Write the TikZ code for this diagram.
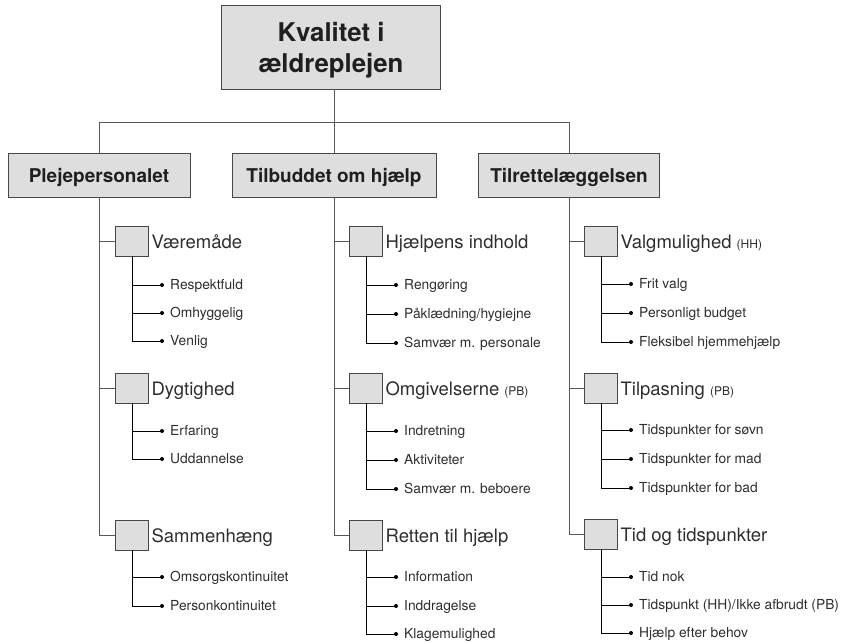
\documentclass[tikz,border=0pt]{standalone}
\usepackage{fontspec}
\setmainfont{TeX Gyre Heros}
\newcommand\tagsize{\fontsize{12}{14}\selectfont}
% one leaf of a category: name, parent box, x of the twig, y, text
\newcommand\twigleaf[5]{%
  \draw[twig] (#2.south) |- (#3+30,#4);
  \node[dot] (#1) at (#3+30,#4) {};
  \node[itemlabel] (#1t) at (#3+38,#4+4.5) {#5};
}
\begin{document}
\begin{tikzpicture}[x=1pt,y=-1pt,
  boxfill/.style={draw=black!72, fill=black!13, line width=0.8pt},
  topbox/.style={boxfill, minimum width=219pt, minimum height=84pt, inner sep=0pt},
  titletext/.style={align=center, inner sep=0pt, text=black!88,
    font=\fontsize{25.8}{31}\selectfont\bfseries},
  headbox/.style={boxfill, minimum height=44pt, inner sep=0pt, text=black!88,
    text height=14pt, text depth=0pt, font=\fontsize{19}{22}\selectfont\bfseries},
  catbox/.style={boxfill, minimum width=33pt, minimum height=30pt, inner sep=0pt},
  catlabel/.style={anchor=base west, inner sep=0pt, text=black!82,
    font=\fontsize{18.5}{22}\selectfont},
  itemlabel/.style={anchor=base west, inner sep=0pt, text=black!82,
    font=\fontsize{13.8}{16}\selectfont},
  trunk/.style={draw=black!65, line width=0.8pt},
  twig/.style={draw=black, line width=0.7pt},
  dot/.style={circle, fill=black, inner sep=0pt, minimum size=4pt},
]
\useasboundingbox (0,0) rectangle (846,643);

% root and the three main headings
\node[topbox] (root) at (330.5,47) {};
\node[titletext] (roottext) at (331,50.5) {Kvalitet i\\ældreplejen};
\node[headbox, minimum width=182pt] (h1) at (99,175) {Plejepersonalet};
\node[headbox, minimum width=204pt] (h2) at (334,175) {Tilbuddet om hjælp};
\node[headbox, minimum width=181pt] (h3) at (569,175) {Tilrettelæggelsen};

\draw[trunk] (root.south -| h2.north) -- (h2.north);
\draw[trunk] (h1.north) -- ++(0,-30) -| (h3.north);

% category boxes
\foreach \n/\x/\y in {c11/132/241, c12/132/388, c13/132/535,
                      c21/366/241, c22/366/388, c23/366/535,
                      c31/601/241, c32/601/388, c33/601/534}
  \node[catbox] (\n) at (\x,\y) {};

\node[catlabel] (c11t) at ([shift={(2.5,7)}]c11.east) {Væremåde};
\node[catlabel] (c12t) at ([shift={(2.5,7)}]c12.east) {Dygtighed};
\node[catlabel] (c13t) at ([shift={(2.5,7)}]c13.east) {Sammenhæng};
\node[catlabel] (c21t) at ([shift={(2.5,7)}]c21.east) {Hjælpens indhold};
\node[catlabel] (c22t) at ([shift={(2.5,7)}]c22.east) {Omgivelserne {\tagsize (PB)}};
\node[catlabel] (c23t) at ([shift={(2.5,7)}]c23.east) {Retten til hjælp};
\node[catlabel] (c31t) at ([shift={(2.5,7)}]c31.east) {Valgmulighed {\tagsize (HH)}};
\node[catlabel] (c32t) at ([shift={(2.5,7)}]c32.east) {Tilpasning {\tagsize (PB)}};
\node[catlabel] (c33t) at ([shift={(2.5,7)}]c33.east) {Tid og tidspunkter};

% stems from headings to categories
\foreach \h/\a/\b/\c in {h1/c11/c12/c13, h2/c21/c22/c23, h3/c31/c32/c33} {
  \draw[trunk] (\h.south) |- (\c.west);
  \draw[trunk] (\h.south |- \a.west) -- (\a.west);
  \draw[trunk] (\h.south |- \b.west) -- (\b.west);
}

% leaves
\twigleaf{l111}{c11}{132}{285}{Respektfuld}
\twigleaf{l112}{c11}{132}{313}{Omhyggelig}
\twigleaf{l113}{c11}{132}{341}{Venlig}
\twigleaf{l121}{c12}{132}{431}{Erfaring}
\twigleaf{l122}{c12}{132}{459}{Uddannelse}
\twigleaf{l131}{c13}{132}{577}{Omsorgskontinuitet}
\twigleaf{l132}{c13}{132}{606}{Personkontinuitet}

\twigleaf{l211}{c21}{366}{285}{Rengøring}
\twigleaf{l212}{c21}{366}{314}{Påklædning/hygiejne}
\twigleaf{l213}{c21}{366}{343}{Samvær m. personale}
\twigleaf{l221}{c22}{366}{431}{Indretning}
\twigleaf{l222}{c22}{366}{460}{Aktiviteter}
\twigleaf{l223}{c22}{366}{489}{Samvær m. beboere}
\twigleaf{l231}{c23}{366}{577}{Information}
\twigleaf{l232}{c23}{366}{606}{Inddragelse}
\twigleaf{l233}{c23}{366}{634}{Klagemulighed}

\twigleaf{l311}{c31}{601}{284}{Frit valg}
\twigleaf{l312}{c31}{601}{313}{Personligt budget}
\twigleaf{l313}{c31}{601}{342}{Fleksibel hjemmehjælp}
\twigleaf{l321}{c32}{601}{430}{Tidspunkter for søvn}
\twigleaf{l322}{c32}{601}{459}{Tidspunkter for mad}
\twigleaf{l323}{c32}{601}{488}{Tidspunkter for bad}
\twigleaf{l331}{c33}{601}{577}{Tid nok}
\twigleaf{l332}{c33}{601}{605}{Tidspunkt (HH)/Ikke afbrudt (PB)}
\twigleaf{l333}{c33}{601}{633}{Hjælp efter behov}
\end{tikzpicture}
\end{document}
